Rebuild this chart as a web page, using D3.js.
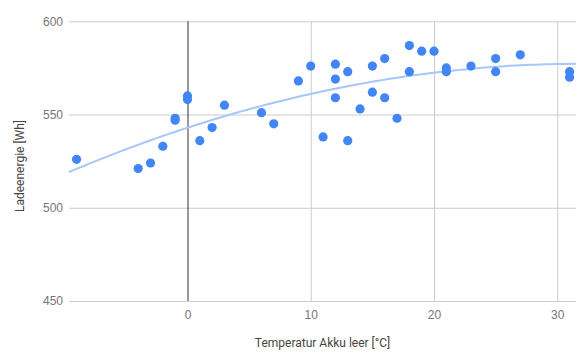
<!DOCTYPE html>
<html>
<head>
<meta charset="utf-8">
<script src="https://cdn.jsdelivr.net/npm/d3@7"></script>
<style>
  html, body { margin: 0; padding: 0; background: #fff; }
  svg { display: block; font-family: Roboto, "Noto Sans", Arial, sans-serif; }
</style>
</head>
<body>
<svg id="chart" width="583" height="355"></svg>
<script>
// Data
const temperatures = [-9, -4, -3, -2, -1, -1, 0, 0, 1, 2, 3, 6, 7, 9, 10, 11, 12, 12, 12, 13, 13, 14, 15, 15, 16, 16, 17, 18, 18, 19, 20, 21, 21, 23, 25, 25, 27, 31, 31];
const energies     = [526, 521, 524, 533, 548, 547, 560, 558, 536, 543, 555, 551, 545, 568, 576, 538, 577, 569, 559, 573, 536, 553, 576, 562, 580, 559, 548, 587, 573, 584, 584, 575, 573, 576, 580, 573, 582, 573, 570];
const xTicks = [0, 10, 20, 30];
const yTicks = [450, 500, 550, 600];
const xTitle = "Temperatur Akku leer [°C]";
const yTitle = "Ladeenergie [Wh]";

const points = temperatures.map((t, i) => ({ x: t, y: energies[i] }));

const svg = d3.select("#chart");
const plot = { left: 69, right: 576, top: 21.3, bottom: 301 };

const x = d3.scaleLinear().domain([-9.613, 31.52]).range([plot.left, plot.right]);
const y = d3.scaleLinear().domain([450, 600]).range([plot.bottom, plot.top]);

// Polynomial (degree 2) least-squares trendline
function quadFit(pts) {
  let n = pts.length, sx = 0, sx2 = 0, sx3 = 0, sx4 = 0, sy = 0, sxy = 0, sx2y = 0;
  pts.forEach(p => {
    const a = p.x, b = p.y;
    sx += a; sx2 += a * a; sx3 += a * a * a; sx4 += a * a * a * a;
    sy += b; sxy += a * b; sx2y += a * a * b;
  });
  const M = [[n, sx, sx2, sy], [sx, sx2, sx3, sxy], [sx2, sx3, sx4, sx2y]];
  for (let i = 0; i < 3; i++) {
    let piv = i;
    for (let r = i + 1; r < 3; r++) if (Math.abs(M[r][i]) > Math.abs(M[piv][i])) piv = r;
    [M[i], M[piv]] = [M[piv], M[i]];
    for (let r = 0; r < 3; r++) {
      if (r === i) continue;
      const f = M[r][i] / M[i][i];
      for (let c = i; c < 4; c++) M[r][c] -= f * M[i][c];
    }
  }
  return [M[0][3] / M[0][0], M[1][3] / M[1][1], M[2][3] / M[2][2]];
}
const coef = quadFit(points);
const trend = d3.range(0, 101).map(i => {
  const t = x.domain()[0] + (x.domain()[1] - x.domain()[0]) * i / 100;
  return { x: t, y: coef[0] + coef[1] * t + coef[2] * t * t };
});

// Horizontal gridlines + y tick labels
const yAxis = d3.axisLeft(y).tickValues(yTicks).tickSize(-(plot.right - plot.left)).tickPadding(6).tickFormat(d3.format("d"));
const gy = svg.append("g").attr("transform", `translate(${plot.left},0)`).call(yAxis);
gy.select(".domain").remove();
gy.selectAll(".tick line").attr("stroke", "#cccccc").attr("stroke-width", 1);
gy.selectAll(".tick text").attr("fill", "#757575").style("font-size", "12px").attr("x", -6);

// Vertical gridlines + x tick labels
const xAxis = d3.axisBottom(x).tickValues(xTicks).tickSize(-(plot.bottom - plot.top)).tickPadding(9).tickFormat(d3.format("d"));
const gx = svg.append("g").attr("transform", `translate(0,${plot.bottom})`).call(xAxis);
gx.select(".domain").remove();
gx.selectAll(".tick line").attr("stroke", d => d === 0 ? "#333333" : "#cccccc").attr("stroke-width", 1);
gx.selectAll(".tick text").attr("fill", "#757575").style("font-size", "12px");

// Trendline
svg.append("path")
  .datum(trend)
  .attr("fill", "none")
  .attr("stroke", "#a7c6f9")
  .attr("stroke-width", 2)
  .attr("d", d3.line().x(d => x(d.x)).y(d => y(d.y)));

// Points
svg.append("g").selectAll("circle")
  .data(points)
  .join("circle")
  .attr("cx", d => x(d.x))
  .attr("cy", d => y(d.y))
  .attr("r", 4.6)
  .attr("fill", "#4285f4");

// Axis titles
svg.append("text")
  .attr("x", (plot.left + plot.right) / 2)
  .attr("y", 347)
  .attr("text-anchor", "middle")
  .attr("fill", "#444444")
  .style("font-size", "12px")
  .text(xTitle);

svg.append("text")
  .attr("transform", `translate(24,166) rotate(-90)`)
  .attr("text-anchor", "middle")
  .attr("fill", "#444444")
  .style("font-size", "12px")
  .text(yTitle);
</script>
</body>
</html>
